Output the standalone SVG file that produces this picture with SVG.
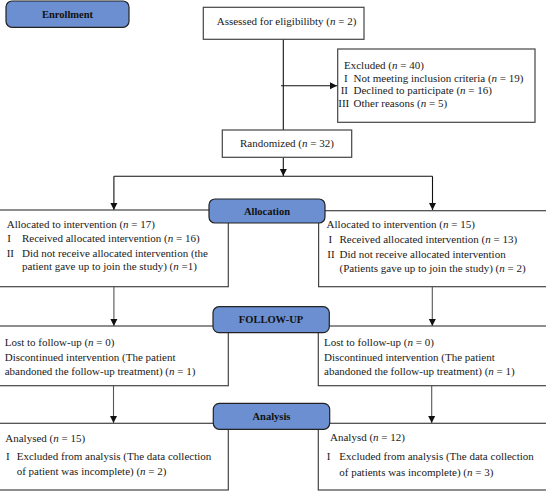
<svg xmlns="http://www.w3.org/2000/svg" width="546" height="491" viewBox="0 0 546 491">
<style>
text{font-family:"Liberation Serif","Times New Roman",serif;font-size:11px;fill:#1a1a1a}
.lbl{font-weight:bold;font-size:10.5px;text-anchor:middle;fill:#111}
.box{fill:#fff;stroke:#444;stroke-width:1.2}
.tag{fill:#6b8fd0;stroke:#222;stroke-width:1.2}
.c1{fill:none;stroke:#111;stroke-width:1.1}
.c2{fill:none;stroke:#555;stroke-width:1.1}
.i{font-style:italic}
</style>
<defs>
<marker id="ah" markerWidth="8" markerHeight="8" refX="7" refY="4" orient="auto" markerUnits="userSpaceOnUse">
<path d="M0,0.5 L7,4 L0,7.5 Z" fill="#111"/>
</marker>
</defs>

<g id="connectors">
<path class="c1" d="M283.3,39.3 V130"/>
<path class="c1" d="M281,85.7 H337" marker-end="url(#ah)"/>
<path class="c1" d="M283.3,157.3 V176" marker-end="url(#ah)"/>
<path class="c1" d="M113.9,176.3 H432.5"/>
<path class="c1" d="M113.9,176.3 V210" marker-end="url(#ah)"/>
<path class="c1" d="M432.5,176.3 V210" marker-end="url(#ah)"/>
<path class="c2" d="M113.9,286.7 V326" marker-end="url(#ah)"/>
<path class="c2" d="M432.3,286.7 V326" marker-end="url(#ah)"/>
<path class="c2" d="M113.5,385.7 V423" marker-end="url(#ah)"/>
<path class="c2" d="M431.7,385.7 V423" marker-end="url(#ah)"/>
</g>

<g id="assessed">
<rect class="box" x="203.3" y="7.3" width="160.7" height="32"/>
<text x="216.7" y="24.5">Assessed for eligibilibty (<tspan class="i">n</tspan> = 2)</text>
</g>

<g id="excluded">
<rect class="box" x="337.7" y="49" width="197.3" height="73.3"/>
<text x="344" y="68.5">Excluded (<tspan class="i">n</tspan> = 40)</text>
<text x="344" y="81.5">I</text>
<text x="353.5" y="81.5">Not meeting inclusion criteria (<tspan class="i">n</tspan> = 19)</text>
<text x="340.7" y="94">II</text>
<text x="353.5" y="94">Declined to participate (<tspan class="i">n</tspan> = 16)</text>
<text x="338.3" y="106.5">III</text>
<text x="353.5" y="106.5">Other reasons (<tspan class="i">n</tspan> = 5)</text>
</g>

<g id="randomized">
<rect class="box" x="222.3" y="130" width="129.4" height="27.3"/>
<text x="240" y="147">Randomized (<tspan class="i">n</tspan> = 32)</text>
</g>

<g id="alloc-left">
<rect class="box" x="-2" y="210" width="230.3" height="76.7"/>
<text x="6.7" y="227.7">Allocated to intervention (<tspan class="i">n</tspan> = 17)</text>
<text x="7.3" y="241.7">I</text>
<text x="22" y="241.7">Received allocated intervention (<tspan class="i">n</tspan> = 16)</text>
<text x="6.7" y="256.7">II</text>
<text x="22" y="256.7">Did not receive allocated intervention (the</text>
<text x="22" y="270">patient gave up to join the study) (<tspan class="i">n</tspan> =1)</text>
</g>

<g id="alloc-right">
<rect class="box" x="318.6" y="210.7" width="230" height="76"/>
<text x="326.6" y="228">Allocated to intervention (<tspan class="i">n</tspan> = 15)</text>
<text x="328.4" y="243.3">I</text>
<text x="339.5" y="243.3">Received allocated intervention (<tspan class="i">n</tspan> = 13)</text>
<text x="327.3" y="257.7">II</text>
<text x="339.5" y="257.7">Did not receive allocated intervention</text>
<text x="339.5" y="272.3">(Patients gave up to join the study) (<tspan class="i">n</tspan> = 2)</text>
</g>

<g id="follow-left">
<rect class="box" x="-2" y="326" width="230.3" height="59.7"/>
<text x="4.7" y="346">Lost to follow-up (<tspan class="i">n</tspan> = 0)</text>
<text x="4.7" y="360.7">Discontinued intervention (The patient</text>
<text x="4.7" y="375">abandoned the follow-up treatment) (<tspan class="i">n</tspan> = 1)</text>
</g>

<g id="follow-right">
<rect class="box" x="318.3" y="326" width="230" height="59.7"/>
<text x="324" y="346">Lost to follow-up (<tspan class="i">n</tspan> = 0)</text>
<text x="324" y="360.7">Discontinued intervention (The patient</text>
<text x="324" y="375">abandoned the follow-up treatment) (<tspan class="i">n</tspan> = 1)</text>
</g>

<g id="analysis-left">
<rect class="box" x="-2" y="423.3" width="230.3" height="66.7"/>
<text x="5.3" y="441.7">Analysed (<tspan class="i">n</tspan> = 15)</text>
<text x="6" y="460">I</text>
<text x="16.7" y="460">Excluded from analysis (The data collection</text>
<text x="16.7" y="475">of patient was incomplete) (<tspan class="i">n</tspan> = 2)</text>
</g>

<g id="analysis-right">
<rect class="box" x="318.3" y="423.3" width="230" height="66.7"/>
<text x="330" y="441">Analysd (<tspan class="i">n</tspan> = 12)</text>
<text x="326.7" y="460">I</text>
<text x="339.3" y="460">Excluded from analysis (The data collection</text>
<text x="339.3" y="476">of patients was incomplete) (<tspan class="i">n</tspan> = 3)</text>
</g>

<g id="enrollment">
<rect class="tag" x="6" y="1" width="123" height="26.3" rx="6"/>
<text class="lbl" x="67.5" y="17.5">Enrollment</text>
</g>

<g id="allocation">
<rect class="tag" x="209" y="199" width="116" height="24" rx="6"/>
<text class="lbl" x="267" y="214.5">Allocation</text>
</g>

<g id="followup">
<rect class="tag" x="213" y="306.7" width="116.3" height="26" rx="6"/>
<text class="lbl" x="271" y="323">FOLLOW-UP</text>
</g>

<g id="analysis">
<rect class="tag" x="213.3" y="403.3" width="116.4" height="26" rx="6"/>
<text class="lbl" x="271.5" y="420">Analysis</text>
</g>
</svg>
